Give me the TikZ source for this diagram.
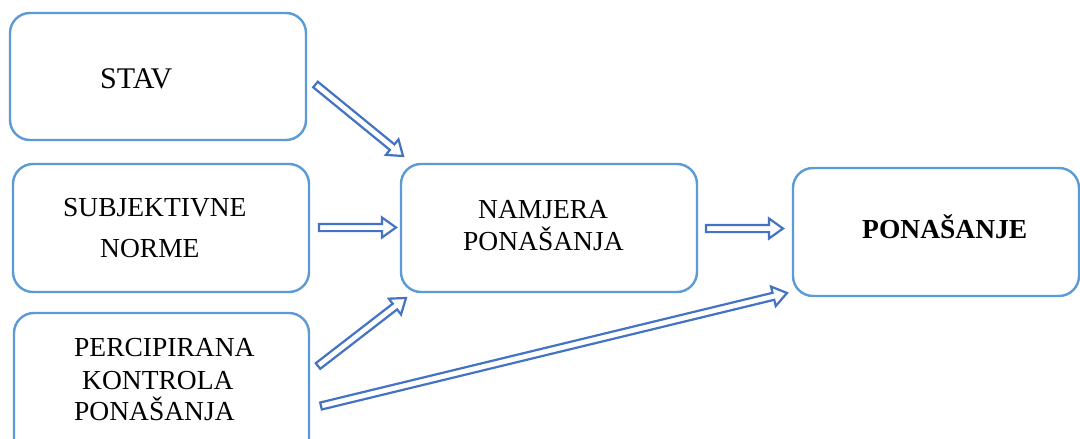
\documentclass[tikz,border=0pt]{standalone}
\usepackage{fontspec}
\setmainfont{Liberation Serif}
\usetikzlibrary{calc}
\definecolor{boxblue}{HTML}{5B9BD5}
\definecolor{arrblue}{HTML}{4472C4}
\tikzset{
  box/.style={draw=boxblue, line width=2.4pt, rounded corners=20pt, rectangle, inner sep=0pt},
  lbl/.style={anchor=base west, inner sep=0pt, font=\fontsize{27.5}{32}\selectfont},
  blbl/.style={lbl, font=\fontsize{27.5}{32}\selectfont\bfseries},
  barrowstyle/.style={draw=arrblue, line width=2.2pt, fill=white, line join=miter},
}
\newcommand\blockarrow[2]{%
  \coordinate (hb) at ($(#2)!14pt!(#1)$);
  \draw[barrowstyle] ($(#1)!3.6pt!90:(#2)$) -- ($(hb)!3.6pt!90:(#2)$) -- ($(hb)!10pt!90:(#2)$) -- (#2)
    -- ($(hb)!10pt!-90:(#2)$) -- ($(hb)!3.6pt!-90:(#2)$) -- ($(#1)!3.6pt!-90:(#2)$) -- cycle;
}
\begin{document}
\begin{tikzpicture}[x=1pt,y=-1pt]
\useasboundingbox (0,0) rectangle (1080,439);
\clip (0,0) rectangle (1080,439);
\fill[white] (0,0) rectangle (1080,439);
% boxes
\node[box, minimum width=296pt, minimum height=127pt] (stav) at (158,76.5) {};
\node[box, minimum width=296pt, minimum height=128pt] (subj) at (161,228) {};
\node[box, minimum width=295pt, minimum height=147pt] (perc) at (161.5,386.5) {};
\node[box, minimum width=296pt, minimum height=128pt] (namj) at (549,228) {};
\node[box, minimum width=286pt, minimum height=128pt] (pon) at (936,232) {};
% labels
\node[lbl, font=\fontsize{30}{34}\selectfont] (t1) at (100,88) {STAV};
\node[lbl] (t2) at (63,216) {SUBJEKTIVNE};
\node[lbl] (t3) at (100,257) {NORME};
\node[lbl] (t4) at (74,356) {PERCIPIRANA};
\node[lbl] (t5) at (82,389) {KONTROLA};
\node[lbl] (t6) at (74,420) {PONAŠANJA};
\node[lbl] (t7) at (478,218) {NAMJERA};
\node[lbl] (t8) at (463,250) {PONAŠANJA};
\node[blbl] (t9) at (862,238) {PONAŠANJE};
% arrow end points
\coordinate (s1) at (315.5,84.5);  \coordinate (e1) at (403,156);
\coordinate (s2) at (319,227.5);   \coordinate (e2) at (396,227.5);
\coordinate (s3) at (706,228.5);   \coordinate (e3) at (783,228.5);
\coordinate (s4) at (318,366);     \coordinate (e4) at (406,298);
\coordinate (s5) at (321,406);     \coordinate (e5) at (787,293);
\blockarrow{s1}{e1}
\blockarrow{s2}{e2}
\blockarrow{s3}{e3}
\blockarrow{s4}{e4}
\blockarrow{s5}{e5}
\end{tikzpicture}
\end{document}
